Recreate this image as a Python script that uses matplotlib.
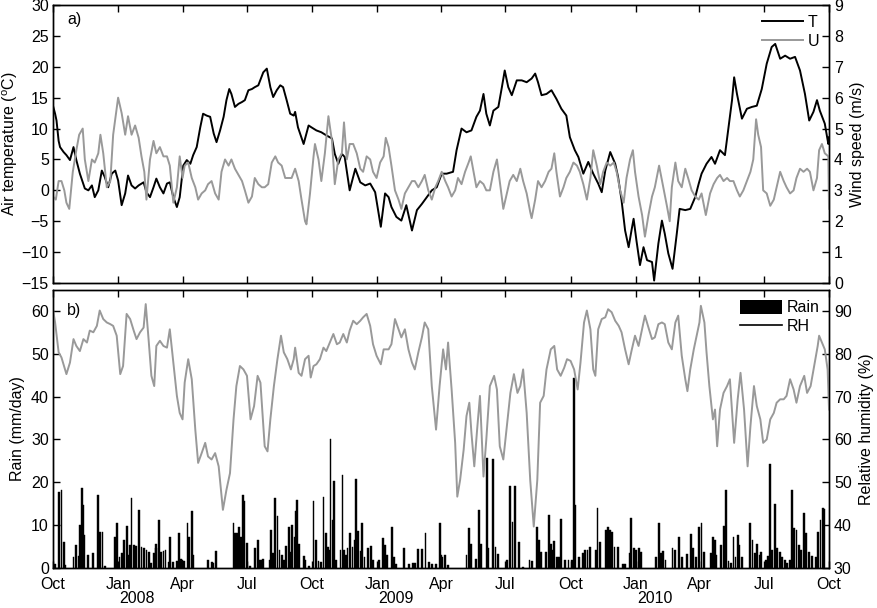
import numpy as np
import matplotlib
matplotlib.use('Agg')
import matplotlib.pyplot as plt
import matplotlib.dates as mdates
from matplotlib.transforms import blended_transform_factory
from matplotlib.lines import Line2D
from matplotlib.patches import Patch

plt.rcParams['font.family'] = ['Liberation Sans', 'DejaVu Sans']
plt.rcParams['mathtext.fontset'] = 'custom'
plt.rcParams['mathtext.rm'] = 'Liberation Sans'
plt.rcParams['font.size'] = 11.5

start = np.datetime64('2007-10-01')
end = np.datetime64('2010-10-01')

# air temperature (deg C), days since 1 Oct 2007
temp_day = [0, 3, 5, 8, 10, 15, 19, 24, 29, 33,
            38, 45, 50, 55, 59, 64, 69, 73, 78, 83,
            88, 92, 97, 102, 106, 111, 116, 121, 128, 132,
            137, 142, 146, 151, 156, 161, 165, 170, 175, 179,
            184, 189, 194, 198, 203, 208, 212, 217, 222, 227,
            231, 236, 241, 245, 249, 252, 257, 262, 267, 271,
            276, 281, 285, 290, 297, 302, 307, 311, 316, 321,
            325, 330, 335, 340,
            342, 346, 354, 361, 365, 372, 379, 386, 394, 398,
            403, 408, 412, 419, 427, 434, 441, 448, 455, 460,
            463, 469, 474, 478, 485, 492, 499, 507, 514, 521,
            528, 535, 542, 549, 556, 565, 570, 577, 584, 591,
            598, 603, 608, 612, 617, 622, 629, 634, 638, 643,
            648, 655, 662, 669, 676, 681, 685, 690, 697, 704,
            711, 718, 725, 730, 737, 742,
            749, 756, 763, 770, 775, 780, 787, 794, 798,
            803, 808, 813, 817, 820, 824, 829, 834, 839, 846,
            849, 855, 860, 864, 869, 875, 881, 885, 893, 900,
            907, 912, 916, 923, 930, 935, 942, 949, 954, 959,
            962, 966, 973, 980, 987, 994, 1001, 1008, 1015, 1020,
            1027, 1034, 1041, 1048, 1055, 1062, 1068, 1074, 1079, 1083,
            1090, 1095, 1096]
temp_val = [13.7, 12.4, 11.3, 8.0, 7.0, 6.2, 5.7, 4.9, 7.0, 4.9,
            2.7, 0.3, 0.0, 0.8, -1.1, 0.0, 3.2, 2.2, 0.5, 2.7,
            3.2, 1.6, -2.4, -0.5, 2.4, 0.8, 0.3, 0.8, 1.3, -0.3,
            -1.1, 0.5, 1.9, 0.5, -0.5, 1.1, 1.3, -1.1, -2.7, -1.1,
            4.0, 4.9, 4.3, 5.7, 7.0, 10.2, 12.4, 12.1, 11.9, 9.2,
            7.8, 9.7, 11.9, 14.6, 16.4, 15.6, 13.5, 14.0, 14.3, 14.6,
            16.2, 16.4, 16.7, 17.0, 19.1, 19.7, 16.7, 15.1, 16.2, 17.0,
            16.7, 14.6, 12.4, 12.1,
            12.7, 10.2, 7.5, 10.5, 10.2, 9.7, 9.4, 8.9, 8.4, 5.9,
            4.3, 5.9, 5.4, 0.0, 3.5, 1.3, 0.8, 1.1, -0.3, -3.8,
            -5.9, -0.5, -1.1, -2.7, -4.3, -4.9, -2.4, -6.5, -3.2, -2.2,
            -1.1, 0.0, 0.5, 2.7, 2.7, 3.0, 6.5, 10.0, 9.4, 9.7,
            11.9, 12.9, 15.6, 12.4, 10.5, 12.9, 13.5, 16.7, 19.4, 16.7,
            15.4, 17.8, 17.8, 17.5, 18.1, 18.9, 17.5, 15.4, 15.6, 16.2,
            14.8, 13.2, 12.1, 8.6, 6.5, 5.4,
            2.7, 4.6, 2.7, 1.1, -0.3, 3.2, 6.2, 4.3, 2.2,
            -1.6, -6.5, -9.2, -6.5, -4.6, -8.1, -12.1, -9.2, -11.3, -11.6,
            -14.6, -8.6, -4.9, -7.0, -10.2, -12.7, -7.0, -3.0, -3.2, -3.0,
            -1.1, 1.1, 2.7, 4.3, 5.4, 4.3, 6.5, 5.7, 10.2, 14.6,
            18.3, 15.6, 11.6, 13.2, 13.5, 13.7, 16.4, 20.5, 23.2, 23.7,
            21.3, 21.8, 21.3, 21.6, 19.4, 15.6, 11.3, 12.7, 14.6, 12.9,
            10.8, 7.5, 8.6]

# wind speed (m/s)
wind_day = [0, 4, 8, 12, 16, 19, 23, 28, 33, 37,
            42, 45, 50, 55, 59, 64, 67, 71, 76, 81,
            85, 92, 97, 102, 106, 111, 116, 121, 125, 129,
            132, 137, 142, 146, 151, 156, 161, 165, 170, 175,
            179, 183, 186, 191, 196, 201, 205, 210, 215, 219,
            224, 229, 234, 238, 243, 248, 252, 257, 262, 267,
            271, 276, 281, 285, 290, 295, 299, 304, 309, 314,
            318, 323, 328, 332, 337, 342,
            347, 351, 356, 358, 363, 368, 370, 375, 379, 384,
            389, 394, 398, 403, 408, 411, 415, 419, 424, 429,
            434, 438, 443, 448, 452, 457, 462, 467, 470, 474,
            478, 483, 488, 492, 497, 502, 507, 511, 516, 521,
            525, 530, 535, 540, 544, 549, 554, 558, 563, 568,
            572, 577, 582, 587, 590, 594, 598, 603, 608, 612,
            617, 622, 627, 631, 636, 641, 645, 650, 655, 660,
            664, 669, 674, 676, 681, 685, 690, 695, 700, 704,
            708, 711, 716, 721, 725, 730, 735, 740,
            744, 749, 754, 759, 763, 768, 773, 777, 782, 787,
            792, 796, 801, 806, 810, 815, 819, 822, 827, 832,
            836, 841, 846, 850, 856, 862, 867, 871, 874, 879,
            883, 888, 893, 897, 902, 907, 912, 916, 922, 928,
            933, 938, 942, 947, 952, 956, 961, 966, 970, 975,
            980, 985, 989, 993, 996, 1000, 1003, 1008, 1013, 1018,
            1022, 1027, 1032, 1036, 1041, 1046, 1050, 1055, 1060, 1065,
            1069, 1074, 1079, 1082, 1086, 1090, 1095, 1096]
wind_val = [2.8, 2.7, 3.3, 3.3, 3.0, 2.6, 2.4, 3.6, 4.3, 4.8,
            5.0, 4.0, 3.3, 4.0, 3.9, 4.2, 4.8, 4.2, 3.1, 3.3,
            4.8, 6.0, 5.5, 4.8, 5.4, 4.8, 5.1, 4.7, 4.1, 3.6,
            2.7, 4.0, 4.6, 4.2, 4.4, 4.1, 4.1, 3.8, 2.6, 3.1,
            4.1, 3.4, 3.8, 3.9, 3.4, 3.1, 2.7, 2.9, 3.0, 3.2,
            3.3, 2.9, 2.7, 3.6, 4.0, 3.8, 4.0, 3.7, 3.5, 3.3,
            3.0, 2.6, 2.8, 3.4, 3.2, 3.1, 3.1, 3.2, 3.9, 4.1,
            3.9, 3.8, 3.4, 3.4, 3.4, 3.7,
            3.3, 2.7, 2.0, 1.9, 2.9, 4.1, 4.5, 4.0, 3.3, 4.2,
            5.4, 4.6, 3.2, 4.0, 4.2, 5.2, 4.0, 4.5, 4.5, 4.2,
            3.7, 3.6, 4.1, 4.0, 3.6, 3.4, 3.9, 4.1, 4.7, 4.4,
            3.8, 3.0, 2.7, 2.4, 2.9, 3.1, 3.3, 3.3, 3.1, 3.3,
            3.5, 3.0, 2.7, 3.1, 3.3, 3.6, 3.3, 3.1, 2.8, 3.0,
            3.4, 3.2, 3.6, 3.9, 4.1, 3.6, 3.1, 3.3, 3.2, 3.0,
            3.0, 3.6, 4.0, 3.3, 2.4, 2.9, 3.3, 3.5, 3.3, 3.7,
            3.3, 2.9, 2.3, 2.1, 2.7, 3.3, 3.1, 3.3, 3.6, 3.7,
            4.2, 3.6, 2.8, 3.1, 3.4, 3.6, 3.9, 3.8,
            3.6, 3.2, 2.7, 3.4, 4.3, 3.8, 3.2, 3.6, 3.9, 3.8,
            3.9, 3.6, 3.0, 2.6, 3.4, 4.0, 4.3, 3.6, 2.8, 2.2,
            1.5, 2.2, 2.8, 3.1, 3.8, 3.1, 2.5, 2.0, 3.1, 3.9,
            3.3, 3.1, 3.7, 3.4, 3.0, 2.8, 2.7, 2.9, 2.2, 2.9,
            3.2, 3.4, 3.5, 3.3, 3.4, 3.3, 3.3, 3.0, 2.8, 3.0,
            3.3, 3.6, 4.0, 5.3, 4.8, 4.4, 3.0, 2.9, 2.5, 2.7,
            3.1, 3.6, 3.3, 3.1, 2.9, 3.0, 3.4, 3.7, 3.6, 3.7,
            3.6, 3.0, 3.4, 4.3, 4.5, 4.2, 4.1, 2.4]

# relative humidity (%)
rh_day = [0, 3, 8, 12, 17, 19, 24, 29, 33, 38,
          43, 48, 52, 57, 62, 66, 71, 76, 81, 85,
          90, 95, 99, 104, 109, 114, 118, 123, 128, 131,
          135, 139, 143, 146, 151, 156, 161, 165, 170, 175,
          179, 183, 186, 191, 196, 201, 205, 210, 215, 219,
          224, 229, 234, 240, 245, 250, 255, 259, 264, 269,
          274, 279, 284, 289, 293, 299, 303, 307, 312, 317,
          322, 326, 331, 336, 340,
          342, 347, 351, 356, 361, 364, 368, 372, 377, 382,
          386, 391, 396, 401, 405, 410, 415, 419, 424, 429,
          434, 438, 443, 448, 452, 457, 463, 467, 474, 478,
          483, 488, 492, 497, 502, 507, 511, 516, 521, 525,
          530, 535, 541, 546, 551, 555, 558, 563, 568, 571,
          575, 580, 584, 588, 591, 595, 599, 603, 608, 612,
          617, 623, 627, 631, 636, 641, 646, 651, 656, 660,
          664, 669, 674, 679, 684, 688, 693, 697, 703, 708,
          712, 717, 722, 726, 731, 736, 741, 745, 750,
          754, 759, 763, 766, 770, 775, 780, 784, 789, 794,
          799, 803, 808, 813, 817, 822, 827, 832, 836, 841,
          846, 850, 855, 860, 864, 869, 874, 879, 883, 888,
          893, 896, 900, 905, 909, 913, 915, 920, 923, 927,
          932, 935, 938, 942, 947, 952, 956, 962, 967, 971,
          976, 981, 985, 990, 994, 999, 1003, 1008, 1013, 1018,
          1022, 1027, 1032, 1036, 1041, 1046, 1050, 1055, 1061, 1065,
          1070, 1075, 1080, 1082, 1087, 1090, 1094, 1096]
rh_val = [90.5, 87.4, 80.4, 79.2, 76.4, 75.3, 78.0, 83.5, 81.9, 80.7,
          83.5, 82.7, 85.5, 85.1, 86.6, 90.2, 88.2, 87.4, 87.0, 86.6,
          84.3, 75.3, 77.2, 89.4, 88.2, 85.5, 83.5, 85.1, 86.2, 91.7,
          83.5, 74.9, 72.5, 81.9, 83.1, 81.9, 81.5, 85.8, 78.0, 70.2,
          66.2, 64.7, 73.3, 78.8, 74.1, 62.3, 54.5, 56.8, 59.2, 56.0,
          55.3, 56.8, 53.7, 43.5, 48.2, 52.1, 64.7, 72.5, 77.2, 76.4,
          74.9, 64.7, 67.8, 74.9, 73.3, 58.4, 57.2, 64.7, 72.5, 78.8,
          84.3, 80.4, 78.8, 76.4, 78.8,
          81.5, 75.6, 74.9, 78.8, 79.6, 74.5, 77.2, 77.6, 78.8, 81.5,
          80.7, 82.7, 84.7, 82.3, 82.7, 84.7, 82.7, 85.5, 87.8, 87.0,
          87.8, 88.6, 89.4, 86.6, 82.3, 79.6, 77.6, 81.1, 81.1, 82.3,
          88.2, 85.8, 83.9, 85.8, 81.1, 78.0, 76.4, 80.4, 83.9, 87.4,
          85.8, 72.5, 62.3, 72.5, 81.1, 76.4, 82.7, 71.7, 59.2, 46.6,
          50.5, 57.6, 65.5, 68.6, 61.5, 53.7, 62.3, 70.2, 51.3, 60.0,
          72.5, 74.9, 71.7, 58.4, 55.3, 63.1, 70.9, 75.3, 70.9, 72.5,
          76.4, 66.2, 50.5, 39.6, 50.5, 68.6, 70.2, 76.4, 81.1, 81.9,
          76.4, 74.9, 76.8, 78.8, 78.4, 76.4, 71.7, 78.0, 87.4,
          90.2, 85.8, 76.4, 74.9, 85.8, 88.2, 88.6, 90.5, 89.8, 87.8,
          86.6, 85.1, 81.1, 77.6, 80.7, 84.3, 81.9, 85.8, 89.0, 86.2,
          83.5, 83.9, 87.0, 87.4, 87.0, 82.7, 81.1, 87.4, 89.0, 79.6,
          74.1, 71.3, 76.4, 81.1, 84.3, 87.4, 91.3, 87.4, 80.4, 72.5,
          64.7, 67.0, 58.4, 67.0, 70.9, 72.5, 74.1, 59.2, 69.4, 75.6,
          67.0, 53.7, 63.1, 72.5, 67.8, 64.7, 59.2, 60.0, 64.7, 66.2,
          68.6, 69.4, 69.4, 70.2, 74.1, 71.7, 68.6, 72.5, 74.9, 70.9,
          72.5, 77.2, 81.9, 84.3, 82.3, 81.1, 76.4, 67.0]

# daily rain (mm/day)
rain_day = [3, 8, 12, 15, 17, 29, 32, 36, 38, 41,
            42, 44, 49, 56, 63, 66, 70, 73, 88, 91,
            94, 97, 100, 104, 106, 109, 111, 114, 117, 122,
            125, 129, 132, 136, 139, 143, 145, 146, 150, 153,
            156, 159, 164, 165, 170, 175, 178, 181,
            182, 185, 190, 192, 196, 198, 219, 224, 226, 230,
            255, 257, 260, 263, 266, 268, 270, 274, 278, 285,
            289, 291, 294, 297, 306, 308, 311, 314, 317, 320,
            323, 326, 329, 333, 336, 338, 341, 343, 345, 348,
            354, 356, 361,
            368, 371, 375, 379, 382, 385, 388, 390, 392, 395,
            397, 400, 406, 409, 411, 414, 416, 419, 423, 426,
            428, 431, 435, 437, 440, 445, 449, 452, 460, 466,
            469, 472, 479, 482, 485, 496, 503, 508, 511, 515,
            521, 526, 531, 535, 541, 546, 548,
            549, 554, 558, 584, 588, 590, 598, 602, 605, 613,
            615, 622, 625, 629, 641, 646, 649, 653, 658, 664,
            673, 676, 683, 686, 689, 696, 701, 703, 706, 708,
            712, 715, 717, 723, 728,
            733, 736, 738, 743, 748, 751, 755, 758, 767, 769,
            773, 781, 784, 787, 790, 793, 798, 805, 808, 815,
            816, 820, 823, 828, 831, 852, 856, 859, 862, 865,
            875, 879, 884, 888, 895, 901, 904, 908, 912, 916,
            920, 929, 932, 935, 937, 943, 948, 951, 954, 957,
            961, 964, 967, 969, 973, 984, 988, 991, 994, 998,
            1000, 1007, 1010, 1013, 1016, 1020, 1023, 1027, 1030, 1034,
            1037, 1041, 1044, 1047, 1050, 1054, 1057, 1061, 1064, 1068,
            1072, 1078, 1081, 1084, 1087, 1089]
rain_val = [0.8, 17.8, 18.2, 6.0, 0.5, 2.5, 5.3, 2.7, 10.0, 18.6,
            14.7, 7.6, 2.9, 3.5, 17.0, 8.4, 8.4, 0.4, 7.2, 10.4,
            2.5, 3.3, 6.4, 9.7, 2.9, 5.3, 16.2, 5.3, 5.0, 13.5,
            4.9, 4.5, 4.1, 3.7, 1.1, 3.3, 5.6, 4.5, 11.1, 3.7,
            3.9, 4.2, 1.3, 7.1, 1.3, 1.6, 8.2, 2.1,
            1.7, 1.6, 10.4, 7.2, 13.3, 2.9, 1.7, 1.3, 1.1, 3.8,
            10.4, 8.0, 8.0, 9.6, 7.2, 17.0, 15.6, 5.8, 0.3, 4.5,
            6.4, 1.7, 1.7, 1.9, 1.7, 8.8, 3.3, 16.2, 12.1, 4.1,
            2.9, 1.7, 5.0, 9.4, 3.7, 10.0, 7.2, 13.3, 15.8, 5.6,
            2.7, 1.7, 0.3,
            15.5, 6.4, 1.5, 1.3, 16.6, 8.0, 4.9, 4.1, 30.1, 11.1,
            20.3, 1.7, 4.1, 21.7, 4.1, 2.9, 4.5, 8.0, 4.9, 6.4,
            20.8, 8.6, 3.8, 10.4, 2.5, 4.5, 5.1, 1.7, 1.7, 6.8,
            5.3, 2.9, 9.4, 2.5, 0.9, 4.6, 0.8, 1.1, 1.1, 4.3,
            4.3, 8.0, 1.3, 0.9, 0.8, 10.5, 2.9,
            2.5, 2.9, 0.5, 2.9, 9.2, 5.4, 1.9, 13.5, 5.5, 25.6,
            4.5, 25.3, 4.9, 3.1, 1.7, 19.0, 10.7, 19.1, 6.0, 0.2,
            1.7, 1.5, 9.4, 6.4, 3.7, 3.7, 12.3, 5.6, 4.1, 6.3,
            2.5, 2.5, 11.3, 1.7, 1.7,
            1.7, 44.5, 14.7, 2.5, 3.3, 4.1, 4.1, 4.9, 4.1, 14.0,
            6.0, 8.9, 9.6, 8.9, 8.4, 4.9, 4.9, 0.9, 0.9, 3.5,
            11.5, 4.5, 4.2, 4.5, 3.7, 2.5, 10.4, 3.3, 3.9, 1.7,
            4.5, 4.2, 7.1, 2.5, 3.1, 7.8, 4.5, 2.5, 9.6, 10.4,
            3.7, 3.3, 7.2, 6.4, 2.9, 5.3, 9.7, 18.2, 1.6, 1.1,
            7.1, 2.5, 7.6, 5.3, 2.5, 10.5, 6.4, 3.3, 5.5, 2.9,
            3.7, 1.7, 2.7, 24.3, 4.1, 14.8, 4.5, 3.7, 2.5, 1.7,
            1.1, 1.7, 18.2, 9.2, 8.8, 5.3, 4.1, 12.7, 8.0, 3.7,
            2.7, 2.5, 8.4, 11.1, 13.9, 13.6]

gray = '#999999'


def to_dates(days):
    return start + np.array(days).astype('timedelta64[D]')


fig = plt.figure(figsize=(8.77, 6.08), dpi=100)
ax1 = fig.add_axes([0.0604, 0.5345, 0.8849, 0.4573])
ax2 = fig.add_axes([0.0604, 0.0666, 0.8849, 0.4564])
ax1r = ax1.twinx()
ax2r = ax2.twinx()

# panel a: temperature and wind
ax1.plot(to_dates(temp_day), temp_val, color='black', lw=1.4)
ax1r.plot(to_dates(wind_day), wind_val, color=gray, lw=1.4)
ax1.set_ylim(-15, 30)
ax1.set_yticks(np.arange(-15, 31, 5))
ax1r.set_ylim(0, 9)
ax1r.set_yticks(np.arange(0, 10, 1))
ax1.set_ylabel(r'Air temperature ($^{\mathrm{o}}$C)', labelpad=1)
ax1r.set_ylabel('Wind speed (m/s)', labelpad=5)
ax1.text(0.018, 0.975, 'a)', transform=ax1.transAxes, va='top', ha='left')
ax1r.legend(handles=[Line2D([], [], color='black', lw=1.4, label='T'),
                     Line2D([], [], color=gray, lw=1.4, label='U')],
            loc='upper right', frameon=False, handlelength=2.6,
            handletextpad=0.3, borderaxespad=0.2, labelspacing=0.25)

# panel b: rain and relative humidity
ax2.bar(to_dates(rain_day), rain_val, width=2.6, color='black',
        edgecolor='black', lw=0.3)
ax2r.plot(to_dates(rh_day), rh_val, color=gray, lw=1.4)
ax2.set_ylim(0, 65)
ax2.set_yticks(np.arange(0, 61, 10))
ax2r.set_ylim(30, 95)
ax2r.set_yticks(np.arange(30, 91, 10))
ax2.set_ylabel('Rain (mm/day)', labelpad=4)
ax2r.set_ylabel('Relative humidity (%)', labelpad=5)
ax2.text(0.018, 0.925, 'b)', transform=ax2.transAxes, va='center', ha='left')
ax2r.legend(handles=[Patch(facecolor='black', label='Rain'),
                     Line2D([], [], color='black', lw=1.2, label='RH')],
            loc='upper right', frameon=False, handlelength=2.6,
            handleheight=1.0, handletextpad=0.3, borderaxespad=0.2,
            labelspacing=0.2)

for ax in (ax1, ax2, ax1r, ax2r):
    ax.set_xlim(start, end)
    ax.xaxis.set_major_locator(mdates.MonthLocator(bymonth=[1, 4, 7, 10]))
    ax.xaxis.set_major_formatter(mdates.DateFormatter('%b'))
    ax.tick_params(direction='in', length=5, width=1, top=True)
    ax.tick_params(axis='x', pad=6.5)
    for s in ax.spines.values():
        s.set_linewidth(1)
ax1.tick_params(labelbottom=False)
ax1r.tick_params(labelbottom=False)
ax1.yaxis.set_tick_params(pad=3)
ax2.yaxis.set_tick_params(pad=3)

trans = blended_transform_factory(ax2.transData, ax2.transAxes)
for yr in ['2008', '2009', '2010']:
    ax2.text(mdates.date2num(np.datetime64(yr + '-01-28')), -0.11, yr,
             transform=trans, ha='center', va='center')

fig.savefig('out.png', dpi=100)
